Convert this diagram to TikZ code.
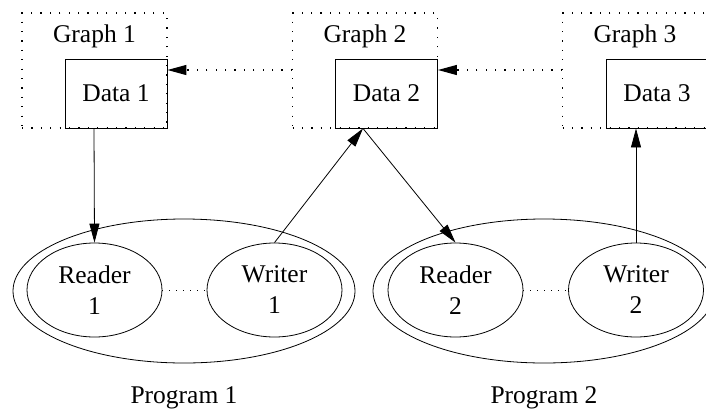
\documentclass[tikz,border=0pt]{standalone}
\usepackage{fontspec}
\setmainfont{Liberation Serif}
\usetikzlibrary{shapes.geometric,arrows.meta}
\begin{document}
\begin{tikzpicture}[x=1pt,y=-1pt,
  every node/.style={font=\fontsize{25.5}{31}\selectfont, inner sep=0pt},
  cluster/.style={draw, line width=1.2pt, dash pattern=on 1.2pt off 8.2pt, minimum width=145pt, minimum height=115pt},
  databox/.style={draw, line width=0.9pt, minimum width=102pt, minimum height=69pt},
  role/.style={draw, ellipse, line width=0.8pt, minimum width=135pt, minimum height=94pt, align=center},
  prog/.style={draw, ellipse, line width=0.8pt, minimum width=342pt, minimum height=144pt},
  lbl/.style={},
  edge/.style={line width=0.8pt, -{Triangle[length=19pt,width=10pt]}},
  dotedge/.style={line width=1.2pt, dash pattern=on 1.2pt off 8.2pt, -{Triangle[length=19pt,width=10pt]}},
  dotlink/.style={line width=0.9pt, dash pattern=on 1pt off 6pt}
]
\useasboundingbox (0,0) rectangle (706,413);
% clusters
\node[cluster] (g1) at (94.5,70.5) {};
\node[cluster] (g2) at (365,70.5) {};
\node[cluster] (g3) at (635,70.5) {};
\node[lbl] (gl1) at (94.5,36) {Graph 1};
\node[lbl] (gl2) at (365,36) {Graph 2};
\node[lbl] (gl3) at (635,36) {Graph 3};
% data boxes
\node[databox] (d1) at (116,93.5) {Data 1};
\node[databox] (d2) at (386.5,93.5) {Data 2};
\node[databox] (d3) at (657,93.5) {Data 3};
% programs
\node[prog] (p1) at (184,291) {};
\node[prog] (p2) at (544,291) {};
\node[role] (r1) at (94.5,290) {Reader\\1};
\node[role] (w1) at (274.5,290) {Writer\\1};
\node[role] (r2) at (455.5,290) {Reader\\2};
\node[role] (w2) at (636,290) {Writer\\2};
\node[lbl] (pl1) at (184,398) {Program 1};
\node[lbl] (pl2) at (544,398) {Program 2};
% helper coordinates
\coordinate (ya) at (0,70);
\coordinate (xa) at (94,0);
\coordinate (xb) at (363,0);
\coordinate (xc) at (636,0);
% dotted cluster edges
\draw[dotedge] (g2.west |- ya) -- (d1.east |- ya);
\draw[dotedge] (g3.west |- ya) -- (d2.east |- ya);
% solid edges
\draw[edge] (d1.south -| xa) -- (r1.north);
\draw[edge] (w1.north) -- (d2.south -| xb);
\draw[edge] (d2.south -| xb) -- (r2.north);
\draw[edge] (w2.north) -- (d3.south -| xc);
% dotted links within programs
\draw[dotlink] (r1.east) -- (w1.west);
\draw[dotlink] (r2.east) -- (w2.west);
\end{tikzpicture}
\end{document}
